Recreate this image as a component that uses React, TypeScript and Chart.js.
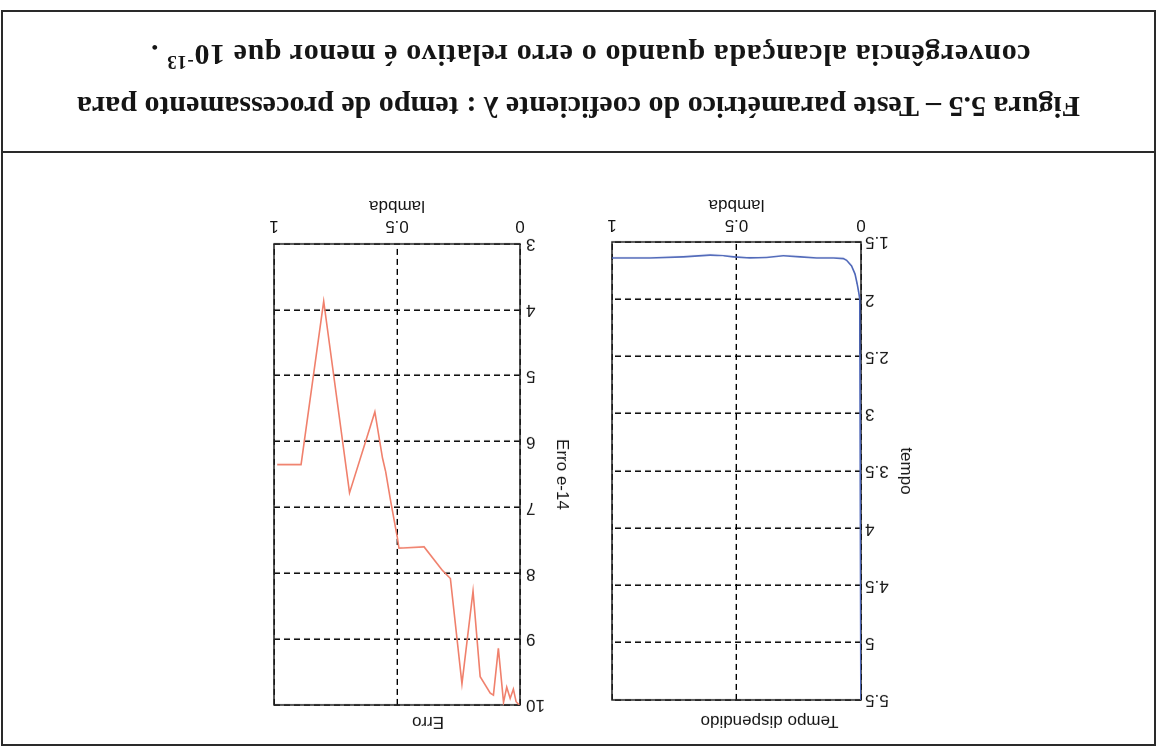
import React, { useEffect, useRef } from "react";
import { Chart, registerables } from "chart.js";

Chart.register(...registerables);

// ---- data ----
const lambdaTicks = [0, 0.5, 1];
const tempoTicks = [1.5, 2, 2.5, 3, 3.5, 4, 4.5, 5, 5.5];
const erroTicks = [3, 4, 5, 6, 7, 8, 9, 10];

const tempoLambda = [0, 0.005, 0.01, 0.016, 0.024, 0.038, 0.058, 0.071, 0.111, 0.178, 0.245, 0.312, 0.379, 0.446, 0.513, 0.552, 0.606, 0.713, 0.847, 1.0];
const tempoValues = [6.0, 2.0, 1.93, 1.86, 1.78, 1.71, 1.66, 1.645, 1.64, 1.64, 1.63, 1.62, 1.635, 1.64, 1.63, 1.62, 1.615, 1.63, 1.64, 1.64];

const tempoMarkLambda = [0.003, 0.003];
const tempoMarkValues = [2.0, 2.48];

const erroLambda = [0.987, 0.89, 0.798, 0.693, 0.59, 0.559, 0.546, 0.526, 0.499, 0.492, 0.39, 0.317, 0.283, 0.236, 0.191, 0.162, 0.121, 0.108, 0.088, 0.067, 0.054, 0.04, 0.027, 0.016, 0.003];
const erroValues = [6.35, 6.35, 3.87, 6.78, 5.55, 6.25, 6.46, 6.9, 7.45, 7.62, 7.6, 7.95, 8.08, 9.68, 8.27, 9.57, 9.82, 9.85, 9.14, 9.96, 9.73, 9.9, 9.76, 9.95, 10.0];

const FONT = "'Liberation Sans', Arial, sans-serif";
const TEXT = "#151515";

const framePlugin = {
  id: "frame",
  beforeDatasetsDraw(chart: any) {
    const { ctx, chartArea } = chart;
    const { left, top, right, bottom } = chartArea;
    ctx.save();
    ctx.strokeStyle = "#222";
    ctx.lineWidth = 1.5;
    ctx.setLineDash([]);
    ctx.strokeRect(left, top, right - left, bottom - top);
    ctx.restore();
  },
};

type Box = {
  left: number; top: number; width: number; height: number;
  yWidth: number; xHeight: number; rightPad: number;
  titleTop: number; titleBottom: number;
  yTitlePad: number; xTitlePad: number;
  yTickPad: number; xTickPad: number;
};

function makeConfig(
  box: Box,
  title: string,
  yTitle: string,
  yMin: number,
  yMax: number,
  yTicks: number[],
  datasets: any[]
) {
  const tickFont = { family: FONT, size: 17 };
  return {
    type: "line",
    data: { datasets },
    options: {
      responsive: false,
      animation: false,
      devicePixelRatio: 1,
      layout: { padding: { left: 0, top: 0, right: box.rightPad, bottom: 0 } },
      elements: { point: { radius: 0 }, line: { tension: 0 } },
      plugins: {
        legend: { display: false },
        tooltip: { enabled: false },
        title: {
          display: true,
          text: title,
          color: TEXT,
          font: { family: FONT, size: 17, weight: "normal", lineHeight: 1.2 },
          padding: { top: box.titleTop, bottom: box.titleBottom },
        },
      },
      scales: {
        x: {
          type: "linear",
          min: 0,
          max: 1,
          afterBuildTicks: (s: any) => { s.ticks = lambdaTicks.map((v) => ({ value: v })); },
          afterFit: (s: any) => { s.height = box.xHeight; },
          ticks: { color: TEXT, font: tickFont, padding: box.xTickPad, maxRotation: 0, callback: (v: any) => String(v) },
          grid: { color: "#000", lineWidth: 1.4, drawTicks: false },
          border: { display: false, dash: [6, 4] },
          title: {
            display: true, text: "lambda", color: TEXT,
            font: { family: FONT, size: 17, lineHeight: 1.2 },
            padding: { top: 0, bottom: box.xTitlePad },
          },
        },
        y: {
          type: "linear",
          min: yMin,
          max: yMax,
          afterBuildTicks: (s: any) => { s.ticks = yTicks.map((v) => ({ value: v })); },
          afterFit: (s: any) => { s.width = box.yWidth; },
          ticks: { color: TEXT, font: tickFont, padding: box.yTickPad, callback: (v: any) => String(v) },
          grid: { color: "#000", lineWidth: 1.4, drawTicks: false },
          border: { display: false, dash: [6, 4] },
          title: {
            display: true, text: yTitle, color: TEXT,
            font: { family: FONT, size: 17, lineHeight: 1.2 },
            padding: { top: box.yTitlePad, bottom: 0 },
          },
        },
      },
    },
    plugins: [framePlugin],
  };
}

function PlotCanvas({ box, build }: { box: Box; build: () => any }) {
  const ref = useRef<HTMLCanvasElement | null>(null);
  useEffect(() => {
    if (!ref.current) return;
    const chart = new Chart(ref.current, build());
    return () => chart.destroy();
  }, []);
  return (
    <canvas
      ref={ref}
      width={box.width}
      height={box.height}
      style={{ position: "absolute", left: box.left, top: box.top, width: box.width, height: box.height }}
    />
  );
}

const tempoBox: Box = {
  left: 230, top: 5, width: 330, height: 565,
  yWidth: 66, xHeight: 61, rightPad: 15,
  titleTop: 14.8, titleBottom: 10.8,
  yTitlePad: 10.8, xTitlePad: 13.8,
  yTickPad: 4, xTickPad: 7,
};

const erroBox: Box = {
  left: 575, top: 5, width: 325, height: 565,
  yWidth: 62, xHeight: 63, rightPad: 17,
  titleTop: 13.8, titleBottom: 6.8,
  yTitlePad: 9.8, xTitlePad: 14.8,
  yTickPad: 6, xTickPad: 8,
};

export default function App() {
  const buildTempo = () =>
    makeConfig(tempoBox, "Tempo dispendido", "tempo", 1.5, 5.5, tempoTicks, [
      {
        label: "tempo",
        data: tempoLambda.map((x, i) => ({ x, y: tempoValues[i] })),
        borderColor: "#4d66b8",
        borderWidth: 1.6,
        fill: false,
      },
      {
        label: "marca",
        data: tempoMarkLambda.map((x, i) => ({ x, y: tempoMarkValues[i] })),
        borderColor: "#111",
        borderWidth: 2,
        fill: false,
      },
    ]);
  const buildErro = () =>
    makeConfig(erroBox, "Erro", "Erro e-14", 3, 10, erroTicks, [
      {
        label: "erro",
        data: erroLambda.map((x, i) => ({ x, y: erroValues[i] })),
        borderColor: "#f0806c",
        borderWidth: 1.6,
        fill: false,
      },
    ]);

  const captionFont: React.CSSProperties = {
    position: "absolute",
    fontFamily: "'Liberation Serif', 'Times New Roman', serif",
    fontWeight: "bold",
    fontSize: 30,
    lineHeight: "30px",
    color: "#151515",
    whiteSpace: "nowrap",
    textAlign: "center",
  };

  return (
    <div
      style={{
        position: "absolute",
        left: 0,
        top: 0,
        width: 1157,
        height: 751,
        background: "#fff",
        overflow: "hidden",
        transform: "rotate(180deg)",
      }}
    >
      <div
        style={{
          position: "absolute",
          left: 1,
          top: 5,
          width: 1151,
          height: 732,
          border: "2px solid #2a2a2a",
          boxSizing: "content-box",
        }}
      />
      <div style={{ position: "absolute", left: 1, top: 598, width: 1155, height: 2, background: "#2a2a2a" }} />
      <PlotCanvas box={tempoBox} build={buildTempo} />
      <PlotCanvas box={erroBox} build={buildErro} />
      <div style={{ ...captionFont, left: 0, width: 1157, top: 629 }}>
        Figura 5.5 – Teste paramétrico do coeficiente λ : tempo de processamento para
      </div>
      <div style={{ ...captionFont, left: 0, width: 1133, top: 681, letterSpacing: "0.6px" }}>
        convergência alcançada quando o erro relativo é menor que 10
        <sup style={{ fontSize: 19, lineHeight: 0 }}>-13</sup> .
      </div>
    </div>
  );
}
